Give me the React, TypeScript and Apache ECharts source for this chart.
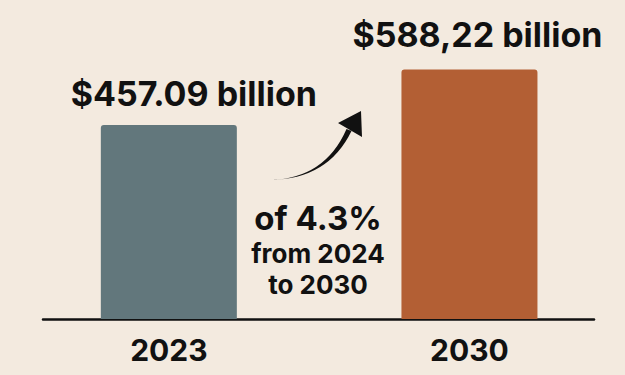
import React, { useEffect, useRef } from "react";
import * as echarts from "echarts";

const years = [2023, 2030];
const values = [457.09, 588.22];
const valueLabels = ["$457.09 billion", "$588,22 billion"];
const barColors = ["#62777c", "#b35f34"];
const noteLines = ["of 4.3%", "from 2024", "to 2030"];

const ARROW_PATH =
  "M270 180 Q325 178.4 346.5 128.9 L351.5 131.1 Q328 179.6 270 180 Z M361 111 L338 123 L362 137 Z";

let registered = false;

export default function App() {
  const ref = useRef<HTMLDivElement>(null);

  useEffect(() => {
    document.body.style.margin = "0";
    document.body.style.background = "#f3eadf";
    if (!registered) {
      echarts.graphic.registerShape("logo", echarts.graphic.extendPath(ARROW_PATH, {}) as any);
      registered = true;
    }
    const chart = echarts.init(ref.current!, null, { renderer: "svg" });
    const font = "Inter, 'DejaVu Sans', sans-serif";
    const labelOffsets = [
      [25, -7],
      [8, -10],
    ];
    chart.setOption({
      animation: false,
      backgroundColor: "#f3eadf",
      grid: { left: 43, right: 31, top: 22, bottom: 56 },
      xAxis: {
        type: "value",
        min: 2020.07,
        max: 2032.9,
        splitLine: { show: false },
        axisTick: { show: false },
        axisLine: { show: true, onZero: true, lineStyle: { color: "#111", width: 2.5 } },
        axisLabel: {
          customValues: years,
          formatter: (v: number) => String(Math.round(v)),
          color: "#111",
          fontFamily: font,
          fontWeight: 700,
          fontSize: 30,
          margin: 16,
        },
      },
      yAxis: { type: "value", min: 0, max: 700, show: false },
      series: [
        {
          type: "bar",
          barWidth: 136,
          data: years.map((y, i) => ({
            value: [y, values[i]],
            itemStyle: { color: barColors[i], borderRadius: [3, 3, 0, 0] },
            label: {
              show: true,
              position: "top",
              distance: 8,
              offset: labelOffsets[i],
              formatter: valueLabels[i],
              color: "#111",
              fontFamily: font,
              fontWeight: 700,
              fontSize: 34,
            },
          })),
        },
      ],
      graphic: [
        {
          type: "logo",
          x: 0,
          y: 0,
          style: { fill: "#111" },
        },
        {
          type: "text",
          x: 318,
          y: 218,
          style: {
            text: noteLines[0],
            textAlign: "center",
            textVerticalAlign: "middle",
            fill: "#111",
            font: `700 33px ${font}`,
          },
        },
        {
          type: "text",
          x: 318,
          y: 253,
          style: {
            text: noteLines[1],
            textAlign: "center",
            textVerticalAlign: "middle",
            fill: "#111",
            font: `700 26px ${font}`,
          },
        },
        {
          type: "text",
          x: 318,
          y: 284,
          style: {
            text: noteLines[2],
            textAlign: "center",
            textVerticalAlign: "middle",
            fill: "#111",
            font: `700 26px ${font}`,
          },
        },
      ],
    });
    return () => chart.dispose();
  }, []);

  return <div ref={ref} style={{ width: 625, height: 375 }} />;
}
